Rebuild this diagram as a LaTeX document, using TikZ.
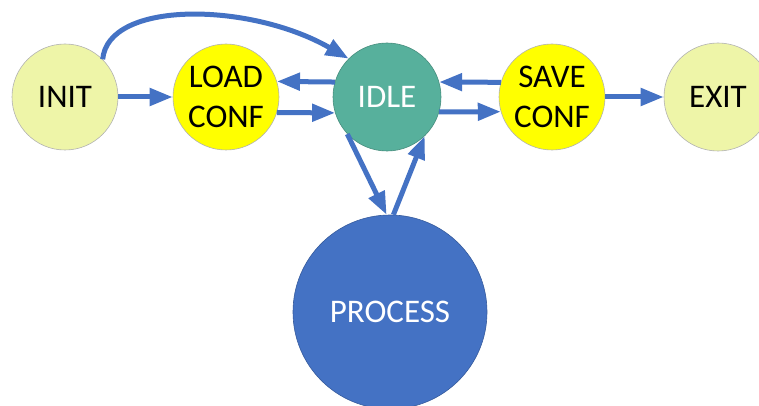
\documentclass[tikz,border=0pt]{standalone}
\usepackage{fontspec}
\setmainfont{Carlito}
\usetikzlibrary{arrows.meta}
\definecolor{paleY}{HTML}{EEF5A8}
\definecolor{brightY}{HTML}{FFFF00}
\definecolor{tealC}{HTML}{57B09C}
\definecolor{blueC}{HTML}{4472C4}
\tikzset{
  state/.style={circle, inner sep=0pt, minimum size=106pt, draw=gray!60, line width=0.6pt,
    font=\fontsize{33}{40}\selectfont, align=center},
  arr/.style={draw=blueC, line width=5pt, -{Triangle[length=23pt,width=17pt]}, shorten >=0pt}
}
\begin{document}
\begin{tikzpicture}[x=1pt,y=1pt]
\useasboundingbox (0,0) rectangle (759,-406);
\node[state, fill=paleY] (init) at (65,-97) {INIT};
\node[state, fill=brightY] (load) at (226,-97) {LOAD\\CONF};
\node[state, fill=tealC, text=white, minimum size=108pt, draw=tealC!80!black] (idle) at (387,-97) {IDLE};
\node[state, fill=brightY] (save) at (552,-97) {SAVE\\CONF};
\node[state, fill=paleY, minimum size=108pt] (exit) at (718,-97) {EXIT};
\node[state, fill=blueC, text=white, minimum size=194pt, draw=blueC!80!black] (proc) at (390,-312) {PROCESS};

\draw[arr] (init.east) -- (load.west);
\draw[arr] (load.-17) -- (idle.197);
\draw[arr] (idle.164) -- (load.17);
\draw[arr] (save.164) -- (idle.16);
\draw[arr] (idle.-16) -- (save.196);
\draw[arr] (save.east) -- (exit.west);
\draw[arr] (init.45) .. controls (108,0) and (250,-2) .. (idle.135);
\draw[arr] (idle.223) -- (proc.92);
\draw[arr] (proc.88) -- (idle.-46);
\end{tikzpicture}
\end{document}
